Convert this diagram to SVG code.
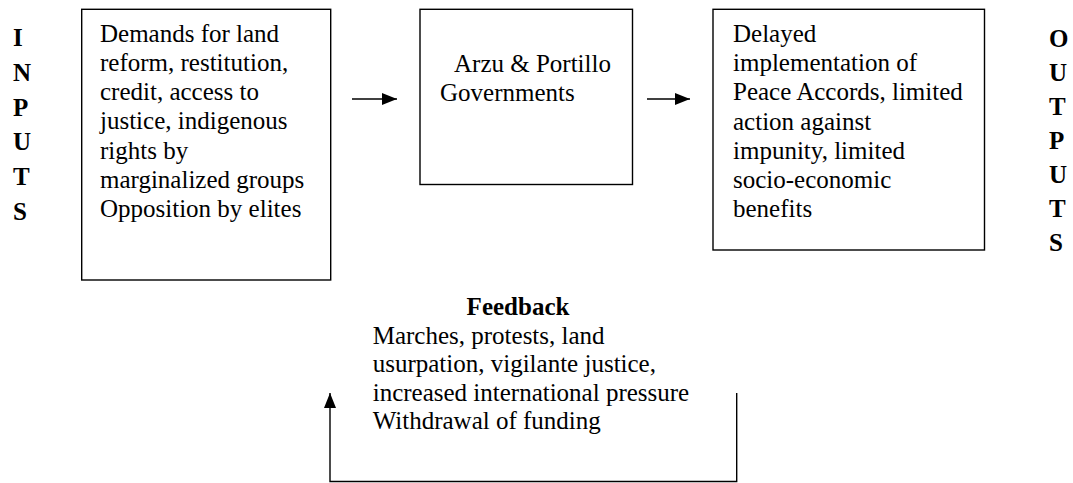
<svg xmlns="http://www.w3.org/2000/svg" width="1073" height="483" viewBox="0 0 1073 483">
<defs>
<style>
text{font-family:"Liberation Serif","Times New Roman",serif;font-size:25px;fill:#000}
.b{font-weight:bold}
.box{fill:#fff;stroke:#000;stroke-width:1.4}
.ln{fill:none;stroke:#000;stroke-width:1.4}
</style>
<marker id="ah2" viewBox="0 0 15 12" refX="15" refY="6" markerWidth="15" markerHeight="12" markerUnits="userSpaceOnUse" orient="auto">
<path d="M0,0 L15,6 L0,12 Z" fill="#000"/>
</marker>
</defs>
<g id="inputs-label">
<text class="b" x="13" y="46">I</text>
<text class="b" x="13" y="80.8">N</text>
<text class="b" x="13" y="115.6">P</text>
<text class="b" x="13" y="150.4">U</text>
<text class="b" x="13" y="185.2">T</text>
<text class="b" x="13" y="220">S</text>
</g>
<g id="inputs">
<rect class="box" x="81.7" y="9.3" width="249" height="270.7"/>
<text x="100" y="41.7">Demands for land</text>
<text x="100" y="70.9">reform, restitution,</text>
<text x="100" y="100.1">credit, access to</text>
<text x="100" y="129.3">justice, indigenous</text>
<text x="100" y="158.5">rights by</text>
<text x="100" y="187.7">marginalized groups</text>
<text x="100" y="216.9">Opposition by elites</text>
</g>
<g id="government">
<rect class="box" x="420" y="9.3" width="212.5" height="175.2"/>
<text x="454" y="72">Arzu &amp; Portillo</text>
<text x="440" y="100.5">Governments</text>
</g>
<g id="outputs">
<rect class="box" x="713" y="9.3" width="271.5" height="240.7"/>
<text x="733" y="42">Delayed</text>
<text x="733" y="71.2">implementation of</text>
<text x="733" y="100.4">Peace Accords, limited</text>
<text x="733" y="129.6">action against</text>
<text x="733" y="158.8">impunity, limited</text>
<text x="733" y="188">socio-economic</text>
<text x="733" y="217.2">benefits</text>
</g>
<g id="outputs-label">
<text class="b" x="1049" y="46.5">O</text>
<text class="b" x="1049" y="80.6">U</text>
<text class="b" x="1049" y="114.7">T</text>
<text class="b" x="1049" y="148.8">P</text>
<text class="b" x="1049" y="182.9">U</text>
<text class="b" x="1049" y="217">T</text>
<text class="b" x="1049" y="251">S</text>
</g>
<g id="feedback">
<text class="b" x="518" y="315" text-anchor="middle">Feedback</text>
<text x="372.7" y="343.5">Marches, protests, land</text>
<text x="372.7" y="372">usurpation, vigilante justice,</text>
<text x="372.7" y="400.5">increased international pressure</text>
<text x="372.7" y="429">Withdrawal of funding</text>
</g>
<g id="connectors">
<line class="ln" x1="352" y1="99" x2="397" y2="99" marker-end="url(#ah2)"/>
<line class="ln" x1="647" y1="99" x2="690" y2="99" marker-end="url(#ah2)"/>
<polyline class="ln" points="736.7,393 736.7,481.5 330,481.5 330,393" marker-end="url(#ah2)"/>
</g>
</svg>
